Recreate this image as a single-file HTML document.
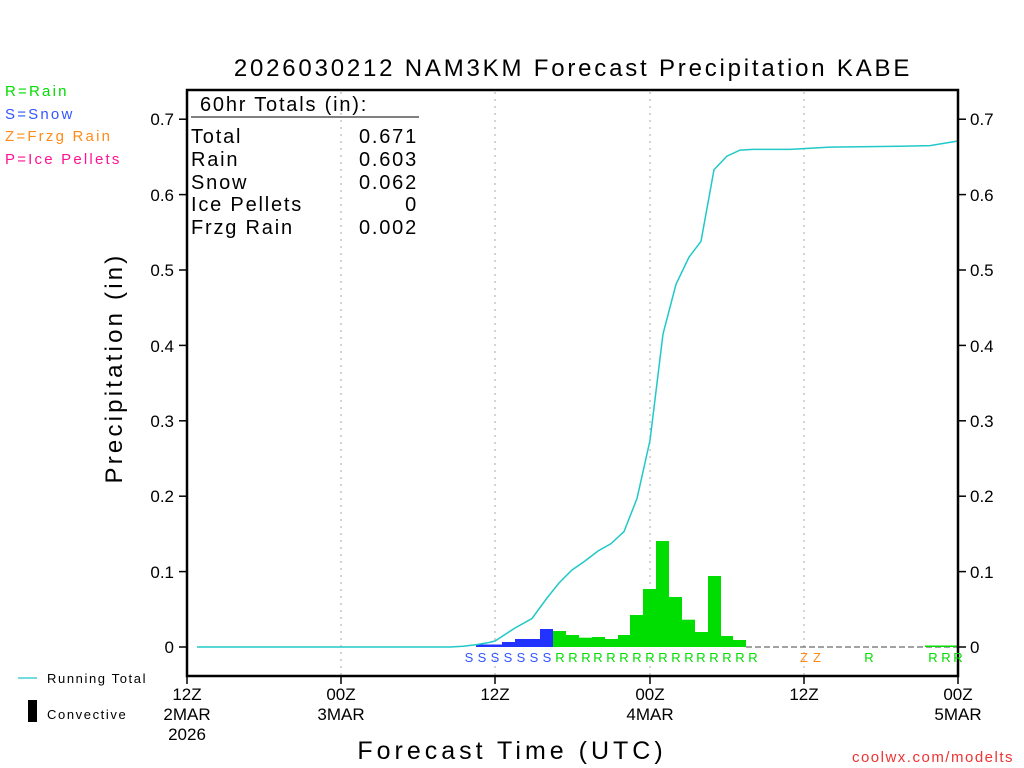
<!DOCTYPE html>
<html><head><style>body{margin:0;background:#fff}svg{display:block}</style></head><body>
<svg width="1024" height="768" xmlns="http://www.w3.org/2000/svg" font-family="Liberation Sans, DejaVu Sans, sans-serif">
<rect width="1024" height="768" fill="#fff"/>
<text x="573" y="76" font-size="24" text-anchor="middle" letter-spacing="2.8">2026030212 NAM3KM Forecast Precipitation KABE</text>
<g font-size="15" letter-spacing="2.2">
<text x="5" y="96" fill="#00dd00">R=Rain</text>
<text x="5" y="119" fill="#3355ff">S=Snow</text>
<text x="5" y="141" fill="#ff8c1a">Z=Frzg Rain</text>
<text x="5" y="164" fill="#ff1493">P=Ice Pellets</text>
</g>
<g stroke="#aaa" stroke-dasharray="2,5" stroke-width="1">
<line x1="341" y1="92" x2="341" y2="676"/><line x1="495" y1="92" x2="495" y2="676"/>
<line x1="650" y1="92" x2="650" y2="676"/><line x1="804" y1="92" x2="804" y2="676"/>
</g>
<line x1="746" y1="647" x2="958" y2="647" stroke="#444" stroke-dasharray="6,3"/>
<g fill="#2233ff">
<rect x="476" y="644.5" width="26" height="2.5"/><rect x="502" y="642" width="13" height="5"/>
<rect x="515" y="639" width="25" height="8"/><rect x="540" y="629" width="13" height="18"/>
</g>
<g fill="#00dd00">
<rect x="553" y="631" width="13" height="16"/><rect x="566" y="635" width="13" height="12"/>
<rect x="579" y="637.7" width="13" height="9.3"/><rect x="592" y="637" width="13" height="10"/>
<rect x="605" y="639" width="13" height="8"/><rect x="618" y="635" width="12" height="12"/>
<rect x="630" y="615" width="13" height="32"/><rect x="643" y="589" width="13" height="58"/>
<rect x="656" y="541" width="13" height="106"/><rect x="669" y="597" width="13" height="50"/>
<rect x="682" y="619.7" width="13" height="27.3"/><rect x="695" y="632" width="13" height="15"/>
<rect x="708" y="576" width="13" height="71"/><rect x="721" y="636" width="12" height="11"/>
<rect x="733" y="640" width="13" height="7"/><rect x="925" y="645.5" width="33" height="1.5"/>
</g>
<polyline fill="none" stroke="#22c8c8" stroke-width="1.5" points="197,647 450,647 463,646.2 476,644.7 489,642.5 495,641 515,628 532,618.5 547,598 559,583 572,570 585,561 598,551 611,543.7 624,531.6 637,498.5 650,440.4 663,334 676,284.3 689,257.2 701,241.3 714,169.7 727,156.1 740,150.1 753,149.4 790,149.4 830,147.1 900,146.3 930,145.6 958,141"/>
<rect x="187" y="90" width="771" height="586" fill="none" stroke="#000" stroke-width="2.5"/>
<g stroke="#000" stroke-width="1.5">
<line x1="179" y1="647" x2="187" y2="647"/><line x1="179" y1="571.6" x2="187" y2="571.6"/><line x1="179" y1="496.2" x2="187" y2="496.2"/><line x1="179" y1="420.8" x2="187" y2="420.8"/><line x1="179" y1="345.4" x2="187" y2="345.4"/><line x1="179" y1="270" x2="187" y2="270"/><line x1="179" y1="194.6" x2="187" y2="194.6"/><line x1="179" y1="119.2" x2="187" y2="119.2"/>
<line x1="958" y1="647" x2="966" y2="647"/><line x1="958" y1="571.6" x2="966" y2="571.6"/><line x1="958" y1="496.2" x2="966" y2="496.2"/><line x1="958" y1="420.8" x2="966" y2="420.8"/><line x1="958" y1="345.4" x2="966" y2="345.4"/><line x1="958" y1="270" x2="966" y2="270"/><line x1="958" y1="194.6" x2="966" y2="194.6"/><line x1="958" y1="119.2" x2="966" y2="119.2"/>
<line x1="187" y1="676" x2="187" y2="684"/><line x1="341" y1="676" x2="341" y2="684"/><line x1="495" y1="676" x2="495" y2="684"/><line x1="650" y1="676" x2="650" y2="684"/><line x1="804" y1="676" x2="804" y2="684"/><line x1="958" y1="676" x2="958" y2="684"/>
</g>
<g font-size="17" text-anchor="end">
<text x="174" y="653">0</text><text x="174" y="578">0.1</text><text x="174" y="502">0.2</text><text x="174" y="427">0.3</text><text x="174" y="352">0.4</text><text x="174" y="276">0.5</text><text x="174" y="201">0.6</text><text x="174" y="125">0.7</text>
</g>
<g font-size="17">
<text x="970" y="653">0</text><text x="970" y="578">0.1</text><text x="970" y="502">0.2</text><text x="970" y="427">0.3</text><text x="970" y="352">0.4</text><text x="970" y="276">0.5</text><text x="970" y="201">0.6</text><text x="970" y="125">0.7</text>
</g>
<g font-size="17" text-anchor="middle">
<text x="187" y="700">12Z</text><text x="187" y="720">2MAR</text><text x="187" y="740">2026</text>
<text x="341" y="700">00Z</text><text x="341" y="720">3MAR</text>
<text x="495" y="700">12Z</text>
<text x="650" y="700">00Z</text><text x="650" y="720">4MAR</text>
<text x="804" y="700">12Z</text>
<text x="958" y="700">00Z</text><text x="958" y="720">5MAR</text>
</g>
<text transform="translate(122,368) rotate(-90)" font-size="24" text-anchor="middle" letter-spacing="3.2">Precipitation (in)</text>
<text x="512" y="759" font-size="25" text-anchor="middle" letter-spacing="4">Forecast Time (UTC)</text>
<g font-size="13" text-anchor="middle">
<g fill="#3355ff"><text x="469" y="662">S</text><text x="482" y="662">S</text><text x="495" y="662">S</text><text x="508" y="662">S</text><text x="521" y="662">S</text><text x="534" y="662">S</text><text x="547" y="662">S</text></g>
<g fill="#00dd00"><text x="560" y="662">R</text><text x="573" y="662">R</text><text x="586" y="662">R</text><text x="598" y="662">R</text><text x="611" y="662">R</text><text x="624" y="662">R</text><text x="637" y="662">R</text><text x="650" y="662">R</text><text x="663" y="662">R</text><text x="676" y="662">R</text><text x="689" y="662">R</text><text x="701" y="662">R</text><text x="714" y="662">R</text><text x="727" y="662">R</text><text x="740" y="662">R</text><text x="753" y="662">R</text><text x="869" y="662">R</text><text x="933" y="662">R</text><text x="946" y="662">R</text><text x="958" y="662">R</text></g>
<g fill="#ff8c1a"><text x="804" y="662">Z</text><text x="817" y="662">Z</text></g>
</g>
<g font-size="20" letter-spacing="1.8">
<text x="200" y="111">60hr Totals (in):</text>
<line x1="191" y1="117" x2="419" y2="117" stroke="#000" stroke-width="1"/>
<text x="191" y="143">Total</text><text x="418" y="143" text-anchor="end">0.671</text>
<text x="191" y="166">Rain</text><text x="418" y="166" text-anchor="end">0.603</text>
<text x="191" y="189">Snow</text><text x="418" y="189" text-anchor="end">0.062</text>
<text x="191" y="211">Ice Pellets</text><text x="418" y="211" text-anchor="end">0</text>
<text x="191" y="234">Frzg Rain</text><text x="418" y="234" text-anchor="end">0.002</text>
</g>
<line x1="18" y1="678" x2="37" y2="678" stroke="#22c8c8" stroke-width="1.2"/>
<text x="47" y="683" font-size="13" letter-spacing="1.6">Running Total</text>
<rect x="28" y="700" width="9" height="22" fill="#000"/>
<text x="47" y="719" font-size="13" letter-spacing="1.6">Convective</text>
<text x="1014" y="762" font-size="15" fill="#ee3333" text-anchor="end" letter-spacing="1.5">coolwx.com/modelts</text>
</svg>
</body></html>
